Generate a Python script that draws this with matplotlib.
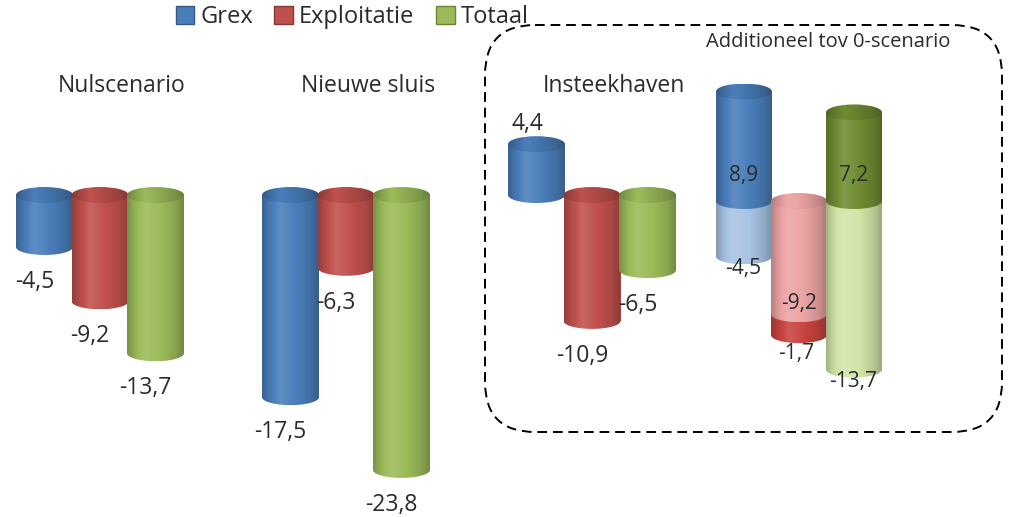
import numpy as np
import matplotlib
matplotlib.use("Agg")
import matplotlib.pyplot as plt
from matplotlib.path import Path
from matplotlib.patches import PathPatch, Ellipse, Patch, FancyBboxPatch
from matplotlib.colors import to_rgb

plt.rcParams['font.family'] = ['Open Sans', 'DejaVu Sans']

# ---- data -------------------------------------------------------------
scenarios = ["Nulscenario", "Nieuwe sluis", "Insteekhaven"]
series = ["Grex", "Exploitatie", "Totaal"]
grex = [-4.5, -17.5, 4.4]
exploitatie = [-9.2, -6.3, -10.9]
totaal = [-13.7, -23.8, -6.5]

# Insteekhaven compared with the 0-scenario
extra_title = "Additioneel tov 0-scenario"
extra_base = [-4.5, -9.2, -13.7]
extra_delta = [8.9, -1.7, 7.2]

# ---- style --------------------------------------------------------------
base_colors = ["#4a7ebb", "#c0504d", "#9bbb59"]
light_colors = ["#a9c4e5", "#eba4a3", "#d2e5a9"]
dark_colors = ["#4a7ebb", "#c8433f", "#6e8c32"]
text_color = "#2b2b2b"

W, H = 1013, 517
fig = plt.figure(figsize=(W / 100, H / 100), dpi=100)

# canvas axes in pixel units (titles, frame)
canvas = fig.add_axes([0, 0, 1, 1])
canvas.set_xlim(0, W)
canvas.set_ylim(H, 0)
canvas.axis("off")

# main value axes: zero line 195 px from the top, 11.55 px per unit
ax = fig.add_axes([0, 0, 1, 1])
main_lim = (-(H - 195) / 11.55, 195 / 11.55)
ax.axis("off")

# axes for the additional block
ax2 = fig.add_axes([0, 0, 1, 1])
extra_lim = (-(H - 201) / 12.3, 201 / 12.3)
ax2.axis("off")


def fmt(v):
    return f"{v:.1f}".replace(".", ",")


def shade(color, f):
    c = np.array(to_rgb(color))
    if f >= 1:
        return c + (1 - c) * (f - 1)
    return c * f


def gradient(color, scale=1.0):
    t = np.linspace(0, 1, 80)
    knots_t = [0.0, 0.12, 0.32, 0.6, 0.85, 1.0]
    knots_f = [0.78, 0.93, 1.12, 1.0, 0.88, 0.74]
    f = np.interp(t, knots_t, knots_f) * scale
    return np.array([[shade(color, v) for v in f]])


def cylinder(a, rect, color, ry, cap=True, cap_scale=0.9, z=2):
    x0 = rect.get_x()
    w = rect.get_width()
    xc = x0 + w / 2
    y_a = rect.get_y()
    y_b = y_a + rect.get_height()
    top, bot = max(y_a, y_b), min(y_a, y_b)
    t = np.linspace(np.pi, 2 * np.pi, 60)
    arc = np.column_stack([xc + w / 2 * np.cos(t), bot + ry * np.sin(t)])
    verts = np.vstack([[x0, top], arc, [x0 + w, top], [x0, top]])
    body = PathPatch(Path(verts, closed=True), transform=a.transData,
                     facecolor="none", edgecolor="none")
    a.add_patch(body)
    im = a.imshow(gradient(color), extent=[x0, x0 + w, bot - ry, top],
                  aspect="auto", interpolation="bilinear", zorder=z)
    im.set_clip_path(body)
    if cap:
        ell = Ellipse((xc, top), w, 2 * ry, transform=a.transData,
                      facecolor="none", edgecolor="none")
        a.add_patch(ell)
        im2 = a.imshow(gradient(color, cap_scale),
                       extent=[x0, x0 + w, top - ry, top + ry],
                       aspect="auto", interpolation="bilinear", zorder=z + 0.1)
        im2.set_clip_path(ell)


# ---- main groups --------------------------------------------------------
group_x = [100, 346, 592]
step, width = 55.5, 57
ry_main = 8 / 11.55
values = [grex, exploitatie, totaal]

for g, gx in enumerate(group_x):
    for s in range(3):
        v = values[s][g]
        x = gx + (s - 1) * step
        bar = ax.bar(x, v, width=width, color=base_colors[s], zorder=1 + s)[0]
        cylinder(ax, bar, base_colors[s], ry_main, z=2 + s * 0.5)
        off = (-10, -35) if v < 0 else (-9, 20)
        ax.annotate(fmt(v), (x, v), xytext=off, textcoords="offset pixels",
                    ha="center", va="center", fontsize=16.5, color=text_color,
                    zorder=10)
    canvas.text(gx + 22, 86, scenarios[g], ha="center", va="center",
                fontsize=16.5, color=text_color)

# ---- additional block ---------------------------------------------------
extra_x = 799
step2, width2 = 55, 56
ry_extra = 8 / 12.3
lbl = dict(ha="center", va="center", fontsize=15, color=text_color, zorder=10,
           textcoords="offset pixels")
for s in range(3):
    b, d = extra_base[s], extra_delta[s]
    x = extra_x + (s - 1) * step2
    stacked = np.sign(b) == np.sign(d)
    if stacked:
        dark = ax2.bar(x, d, bottom=b, width=width2, color=dark_colors[s], zorder=1)[0]
        cylinder(ax2, dark, dark_colors[s], ry_extra, cap=False, z=2 + s)
        light = ax2.bar(x, b, width=width2, color=light_colors[s], zorder=1)[0]
        cylinder(ax2, light, light_colors[s], ry_extra, cap=True,
                 cap_scale=0.95, z=2.2 + s)
        ax2.annotate(fmt(b), (x, b), xytext=(0, 11), **lbl)
        ax2.annotate(fmt(d), (x, b + d), xytext=(-3, -18), **lbl)
    else:
        light = ax2.bar(x, b, width=width2, color=light_colors[s], zorder=1)[0]
        cylinder(ax2, light, light_colors[s], ry_extra, cap=False, z=2 + s)
        dark = ax2.bar(x, d, width=width2, color=dark_colors[s], zorder=1)[0]
        cylinder(ax2, dark, dark_colors[s], ry_extra, cap=True, z=2.2 + s)
        ax2.annotate(fmt(b), (x, b), xytext=(-1, -12), **lbl)
        ax2.annotate(fmt(d), (x, 0), xytext=(0, 25), **lbl)

canvas.text(828, 42, extra_title, ha="center", va="center", fontsize=14.5,
            color=text_color)

frame = FancyBboxPatch((485, 25), 1002 - 485, 432 - 25,
                       boxstyle="round,pad=0,rounding_size=50",
                       facecolor="none", edgecolor="black", lw=1.4,
                       linestyle=(0, (5, 3)))
canvas.add_patch(frame)

# ---- legend -------------------------------------------------------------
handles = [Patch(facecolor=c, edgecolor=shade(c, 0.7), lw=1) for c in base_colors]
fig.legend(handles, series, loc="center", bbox_to_anchor=(352 / W, 1 - 17 / H),
           ncol=3, frameon=False, fontsize=17, handlelength=0.8,
           handleheight=0.8, handletextpad=0.25, columnspacing=0.9,
           labelcolor=text_color)

for a, lim in ((ax, main_lim), (ax2, extra_lim)):
    a.set_xlim(0, W)
    a.set_ylim(*lim)

fig.savefig("out.png", dpi=100)
